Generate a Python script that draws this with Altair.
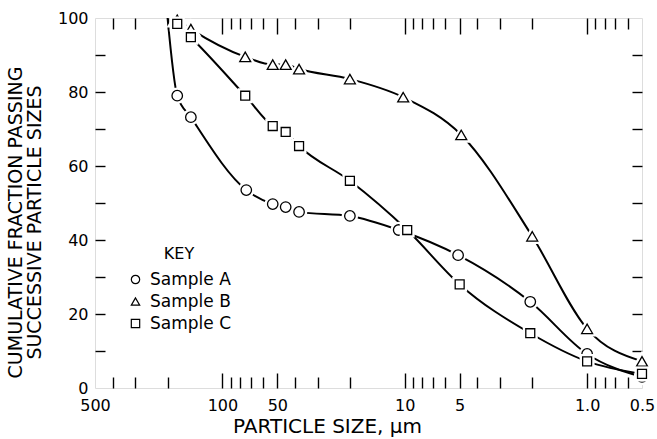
import altair as alt
import pandas as pd

series_names = ["Sample A", "Sample B", "Sample C"]
shapes = ["circle", "triangle-up", "square"]

size_A = [200, 177, 149, 74, 53, 45, 38, 20, 10.8, 5.1, 2.05, 1.0, 0.5]
pass_A = [100, 79.0, 73.2, 53.5, 49.7, 48.9, 47.6, 46.5, 42.7, 35.9, 23.3, 9.2, 3.0]
mark_A = [False] + [True] * 12

size_B = [177, 149, 75, 53, 45, 38, 20, 10.2, 4.9, 2.0, 1.0, 0.5]
pass_B = [99.5, 97.0, 89.5, 87.4, 87.4, 86.2, 83.5, 78.6, 68.4, 41.0, 16.0, 7.2]
mark_B = [True] * 12

size_C = [177, 149, 75, 53, 45, 38, 20, 9.7, 5.0, 2.05, 1.0, 0.5]
pass_C = [98.4, 94.8, 79.0, 70.8, 69.2, 65.4, 56.0, 42.7, 28.0, 14.8, 7.2, 3.8]
mark_C = [True] * 12

x_labels = [500, 100, 50, 10, 5, 1, 0.5]
x_major = [100, 50, 10, 5, 1]
x_minor = [400, 300, 200, 90, 80, 70, 60, 40, 30, 20, 9, 8, 7, 6, 4, 3, 2,
           0.9, 0.8, 0.7, 0.6]
y_labels = [0, 20, 40, 60, 80, 100]
y_ticks = [10, 20, 30, 40, 50, 60, 70, 80, 90]

rows = []
for name, sz, pc, mk in zip(series_names, [size_A, size_B, size_C],
                            [pass_A, pass_B, pass_C], [mark_A, mark_B, mark_C]):
    for i, (s, p, m) in enumerate(zip(sz, pc, mk)):
        rows.append({"series": name, "size": s, "pct": p, "marker": m, "ord": i})
df = pd.DataFrame(rows)

FONT = "DejaVu Sans"
xs = alt.Scale(type="log", domain=[0.5, 500], reverse=True, nice=False)
ys = alt.Scale(domain=[0, 100], nice=False, zero=False)
shape_scale = alt.Scale(domain=series_names, range=shapes)
marker_sizes = {"Sample A": 110, "Sample B": 120, "Sample C": 80}

legend = alt.Legend(
    title="KEY", orient="none", legendX=32, legendY=228,
    titleFontSize=16, titleFontWeight="normal", titleFont=FONT,
    titleColor="black", titleAnchor="middle", titlePadding=9,
    labelFontSize=17, labelFont=FONT, labelColor="black",
    labelOffset=6, symbolSize=70, symbolStrokeWidth=1.2,
    symbolFillColor="white", symbolStrokeColor="black",
    symbolType="circle", rowPadding=4,
)


def enc_x(axis):
    return alt.X("size:Q", scale=xs, axis=axis)


def enc_y(axis):
    return alt.Y("pct:Q", scale=ys, axis=axis)


x_label_axis = alt.Axis(
    orient="bottom", values=x_labels, ticks=False, domain=False, grid=False,
    labelExpr="datum.value == 1 ? '1.0' : format(datum.value, '~g')",
    labelFontSize=16, labelPadding=9, labelOverlap=False, labelFlush=False,
    labelBound=False, labelColor="black", labelFont=FONT,
    title="PARTICLE SIZE, \u03bcm", titleFontSize=20, titleFontWeight="normal",
    titleFont=FONT, titleColor="black", titleX=232, titleY=44,
    titleAlign="center", titleBaseline="alphabetic",
)
y_label_axis = alt.Axis(
    orient="left", values=y_labels, ticks=False, domain=False, grid=False,
    labelFontSize=16, labelPadding=7, labelColor="black", labelFont=FONT,
    labelFlush=False, labelBound=False,
    title=["CUMULATIVE FRACTION PASSING", "SUCCESSIVE PARTICLE SIZES"],
    titleFontSize=19, titleFontWeight="normal", titleFont=FONT,
    titleColor="black", titleX=-70, titleY=204, titleAngle=270,
    titleAlign="center", titleBaseline="bottom", titleLineHeight=19,
)


def tick_axis(orient, values, length):
    return alt.Axis(orient=orient, values=values, offset=-length,
                    tickSize=length, tickWidth=1.4, tickColor="black",
                    labels=False, domain=False, grid=False, title=None)


lines = alt.Chart(df).mark_line(
    color="black", strokeWidth=2, interpolate="monotone"
).encode(
    x=enc_x(x_label_axis), y=enc_y(y_label_axis),
    detail="series:N", order="ord:Q",
)

marker_layers = []
for name in series_names:
    sub = alt.Chart(df).transform_filter("datum.marker").transform_filter(
        alt.datum.series == name)
    halo = sub.mark_point(filled=False, stroke="white", strokeWidth=6,
                          opacity=1, size=marker_sizes[name]).encode(
        x=enc_x(None), y=enc_y(None),
        shape=alt.Shape("series:N", scale=shape_scale, legend=legend),
    )
    mk = sub.mark_point(fill="white", stroke="black", strokeWidth=1.3,
                        opacity=1, filled=True,
                        size=marker_sizes[name]).encode(
        x=enc_x(None), y=enc_y(None),
        shape=alt.Shape("series:N", scale=shape_scale, legend=legend),
    )
    marker_layers += [halo, mk]


def axis_layer(xaxis=None, yaxis=None):
    return alt.Chart(df).mark_point(opacity=0).encode(
        x=enc_x(xaxis), y=enc_y(yaxis))


layers = [lines] + marker_layers + [
    axis_layer(xaxis=tick_axis("bottom", x_major, 15)),
    axis_layer(xaxis=tick_axis("bottom", x_minor, 11)),
    axis_layer(xaxis=tick_axis("top", x_major, 16)),
    axis_layer(xaxis=tick_axis("top", x_minor, 11)),
    axis_layer(yaxis=tick_axis("left", y_ticks, 10)),
    axis_layer(yaxis=tick_axis("right", y_ticks, 10)),
]

chart = alt.layer(*layers).resolve_axis(
    x="independent", y="independent"
).resolve_scale(x="shared", y="shared").properties(
    width=547, height=370,
    autosize=alt.AutoSizeParams(type="none"),
    padding={"left": 95, "top": 18, "right": 15, "bottom": 51},
    background="white",
).configure_view(
    stroke="black", strokeWidth=2
).configure(font=FONT)

chart.save("out.html", embed_options={"renderer": "svg", "actions": False})
